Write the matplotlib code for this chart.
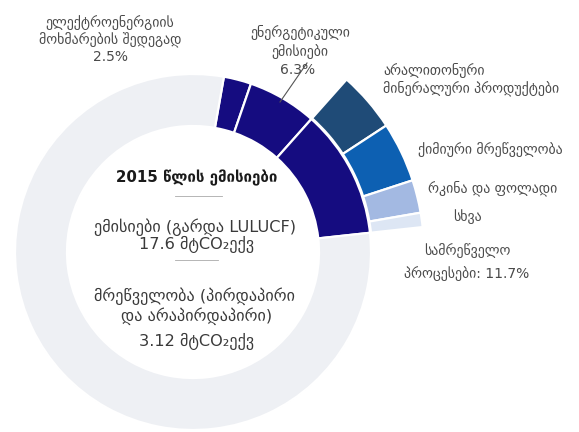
import matplotlib
matplotlib.use("Agg")
import matplotlib.pyplot as plt

plt.rcParams['font.family'] = ['DejaVu Sans']

# Industry share of national emissions, 2015 (% of total)
sector_labels = ["ელექტროენერგიის მოხმარება", "ენერგეტიკული ემისიები",
                 "სამრეწველო პროცესები", "სხვა სექტორები"]
sector_values = [2.5, 6.3, 11.7, 79.5]

# Breakdown of industrial process emissions (% of total)
process_labels = ["არალითონური მინერალური პროდუქტები", "ქიმიური მრეწველობა",
                  "რკინა და ფოლადი", "სხვა"]
process_values = [4.2, 4.2, 2.3, 1.0]

total_emissions = 17.6   # MtCO2e, excluding LULUCF
industry_emissions = 3.12

W, H = 579, 432
fig = plt.figure(figsize=(W / 100, H / 100), dpi=100)
ax = fig.add_axes([0, 0, 1, 1])
ax.set_xlim(0, W)
ax.set_ylim(0, H)
ax.set_aspect('equal')
ax.axis('off')

cx, cy = 193, H - 252
R, ring = 178, 52
start = 80

navy = "#150c80"
sector_colors = [navy, navy, navy, "#eef0f4"]
ax.pie(sector_values, startangle=start, counterclock=False, radius=R,
       center=(cx, cy), colors=sector_colors,
       wedgeprops=dict(width=ring, edgecolor='white', linewidth=1.6))

# outer ring: breakdown of the process-emissions wedge
sub_start = start - 360 * sum(sector_values[:2]) / sum(sector_values)
rest = sum(sector_values) - sum(process_values)
proc_colors = ["#1f4b77", "#0d60b2", "#a3b9e2", "#dde6f4", "none"]
ax.pie(process_values + [rest], startangle=sub_start, counterclock=False,
       radius=R + ring + 1, center=(cx, cy), colors=proc_colors,
       wedgeprops=dict(width=ring, edgecolor='white', linewidth=1.6))
ax.patches[-1].set_edgecolor('none')

ax.set_xlim(0, W)
ax.set_ylim(0, H)

def T(x, y, s, **kw):
    kw.setdefault('fontsize', 10.0)
    kw.setdefault('color', '#4a4a4a')
    kw.setdefault('ha', 'center')
    ax.text(x, H - y, s, va='center', **kw)

# wedge labels
T(110, 22, "ელექტროენერგიის")
T(110, 40, "მოხმარების შედეგად")
T(110, 57, f"{sector_values[0]}%")

T(300, 33, "ენერგეტიკული")
T(300, 52, "ემისიები")
T(298, 70, f"{sector_values[1]}%")
ax.plot([307, 280], [H - 63, H - 102], color='#555555', lw=0.8)

T(383, 71, "არალითონური", ha='left')
T(383, 88, "მინერალური პროდუქტები", ha='left')
T(418, 150, process_labels[1], ha='left')
T(428, 188, process_labels[2], ha='left')
T(467, 217, process_labels[3])
T(467, 251, "სამრეწველო")
T(467, 274, f"პროცესები: {sector_values[2]}%")

# centre annotation
CF = 11.6
T(197, 178, "2015 წლის ემისიები", fontsize=10.8, fontweight='bold', color='#1a1a1a')
ax.plot([175, 222], [H - 196, H - 196], color='#aaaaaa', lw=0.6)
T(195, 227, "ემისიები (გარდა LULUCF)", fontsize=CF, color='#3a3a3a')
T(197, 244, f"{total_emissions} მტCO₂ექვ", fontsize=CF, color='#3a3a3a')
ax.plot([175, 218], [H - 260, H - 260], color='#aaaaaa', lw=0.6)
T(195, 296, "მრეწველობა (პირდაპირი", fontsize=CF, color='#3a3a3a')
T(197, 316, "და არაპირდაპირი)", fontsize=CF, color='#3a3a3a')
T(197, 341, f"{industry_emissions} მტCO₂ექვ", fontsize=CF, color='#3a3a3a')

fig.savefig("out.png", dpi=100)
